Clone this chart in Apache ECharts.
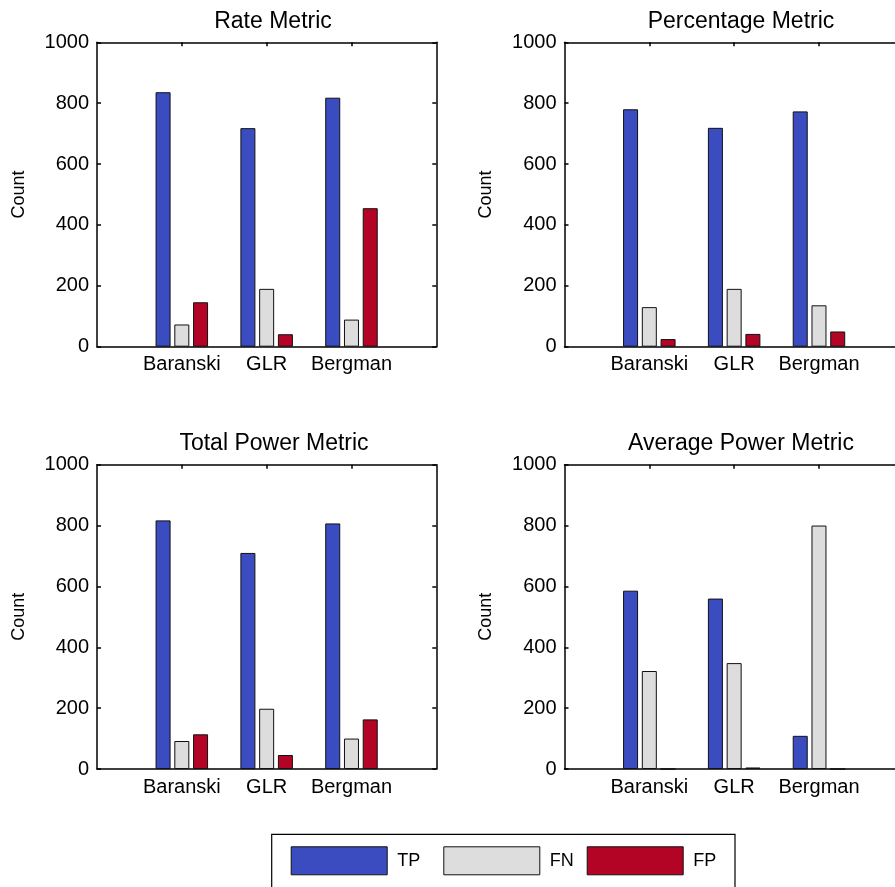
<!DOCTYPE html>
<html><head><meta charset="utf-8">
<script src="https://cdn.jsdelivr.net/npm/echarts@6/dist/echarts.min.js"></script>
<style>html,body{margin:0;padding:0;background:#fff}#c{width:895px;height:887px}</style>
</head><body><div id="c"></div>
<script>
// ---- data ----
const categories = ['Baranski', 'GLR', 'Bergman'];
const catPos = [1, 2, 3];
const seriesNames = ['TP', 'FN', 'FP'];
const titles = ['Rate Metric', 'Percentage Metric', 'Total Power Metric', 'Average Power Metric'];
const yTicks = [0, 200, 400, 600, 800, 1000];

const rateTP = [836, 718, 818];
const rateFN = [73, 190, 89];
const rateFP = [146, 41, 455];

const pctTP = [780, 719, 773];
const pctFN = [130, 190, 136];
const pctFP = [25, 42, 50];

const totTP = [817, 710, 807];
const totFN = [92, 198, 100];
const totFP = [114, 46, 163];

const avgTP = [586, 560, 109];
const avgFN = [322, 348, 800];
const avgFP = [0, 5, 0];

// ---- layout / style ----
const panelData = [
  [rateTP, rateFN, rateFP],
  [pctTP, pctFN, pctFP],
  [totTP, totFN, totFP],
  [avgTP, avgFN, avgFP]
];
const colors = ['#3b4cc0', '#dddddd', '#b40426'];
const FONT = "'Liberation Sans', Arial, Helvetica, sans-serif";
const gridPos = [
  {left: 97, top: 42.3, width: 339.3, height: 304.4},
  {left: 564.5, top: 42.3, width: 339.3, height: 304.4},
  {left: 97, top: 464.7, width: 339.3, height: 304.3},
  {left: 564.5, top: 464.7, width: 339.3, height: 304.3}
];
const titlePos = [
  {x: 273, y: 10}, {x: 741, y: 10}, {x: 274, y: 432}, {x: 741, y: 432}
];
const lineStyle = {color: '#000', width: 1.5};

const grids = [], xAxes = [], yAxes = [], series = [], titleOpts = [];
gridPos.forEach((g, i) => {
  grids.push(Object.assign({outerBoundsMode: 'none', containLabel: false}, g));
  titleOpts.push({
    text: titles[i], left: titlePos[i].x, top: titlePos[i].y, textAlign: 'center', padding: 0,
    textStyle: {fontFamily: FONT, fontSize: 23, fontWeight: 'normal', color: '#000'}
  });
  xAxes.push({
    gridIndex: i, type: 'value', min: 0, max: 4, interval: 1, position: 'bottom',
    axisLine: {show: true, onZero: false, lineStyle},
    axisTick: {show: true, inside: true, length: 4, customValues: catPos, lineStyle},
    axisLabel: {customValues: catPos, formatter: v => categories[catPos.indexOf(v)] || '',
      fontFamily: FONT, fontSize: 20, color: '#000', margin: 8},
    splitLine: {show: false}
  });
  xAxes.push({
    gridIndex: i, type: 'value', min: 0, max: 4, interval: 1, position: 'top',
    axisLine: {show: true, onZero: false, lineStyle},
    axisTick: {show: true, inside: true, length: 4, customValues: catPos, lineStyle},
    axisLabel: {show: false}, splitLine: {show: false}
  });
  yAxes.push({
    gridIndex: i, type: 'value', min: yTicks[0], max: yTicks[yTicks.length - 1], interval: 200, position: 'left',
    name: 'Count', nameLocation: 'middle', nameGap: 69,
    nameTextStyle: {fontFamily: FONT, fontSize: 18, color: '#000'},
    axisLine: {show: true, onZero: false, lineStyle},
    axisTick: {show: true, inside: true, length: 4, customValues: yTicks, lineStyle},
    axisLabel: {customValues: yTicks, formatter: v => String(v),
      fontFamily: FONT, fontSize: 20, color: '#000', margin: 8},
    splitLine: {show: false}
  });
  yAxes.push({
    gridIndex: i, type: 'value', min: yTicks[0], max: yTicks[yTicks.length - 1], interval: 200, position: 'right',
    axisLine: {show: true, onZero: false, lineStyle},
    axisTick: {show: true, inside: true, length: 4, customValues: yTicks, lineStyle},
    axisLabel: {show: false}, splitLine: {show: false}
  });
  panelData[i].forEach((vals, s) => {
    series.push({
      type: 'bar', name: seriesNames[s], xAxisIndex: 2 * i, yAxisIndex: 2 * i,
      data: vals.map((v, k) => [catPos[k], v]),
      barWidth: 15, barGap: '25%',
      itemStyle: {color: colors[s], borderColor: '#111', borderWidth: 1},
      silent: true
    });
  });
});

const legendLeft = [290.7, 443.3, 586.7];
const legends = seriesNames.map((n, k) => ({
  data: [n], left: legendLeft[k], top: 846.3, padding: 0, orient: 'horizontal',
  itemWidth: 96, itemHeight: 28, icon: 'rect', selectedMode: false,
  itemStyle: {borderColor: '#111', borderWidth: 1},
  textStyle: {fontFamily: FONT, fontSize: 18, color: '#000', padding: [0, 0, 0, 5]}
}));

const chart = echarts.init(document.getElementById('c'), null, {renderer: 'canvas'});
chart.setOption({
  animation: false,
  backgroundColor: '#fff',
  title: titleOpts,
  grid: grids,
  xAxis: xAxes,
  yAxis: yAxes,
  legend: legends,
  graphic: [{
    type: 'rect', shape: {x: 271.7, y: 834.3, width: 463.3, height: 120},
    style: {fill: 'none', stroke: '#000', lineWidth: 1.2}, silent: true
  }],
  series
});
</script></body></html>
